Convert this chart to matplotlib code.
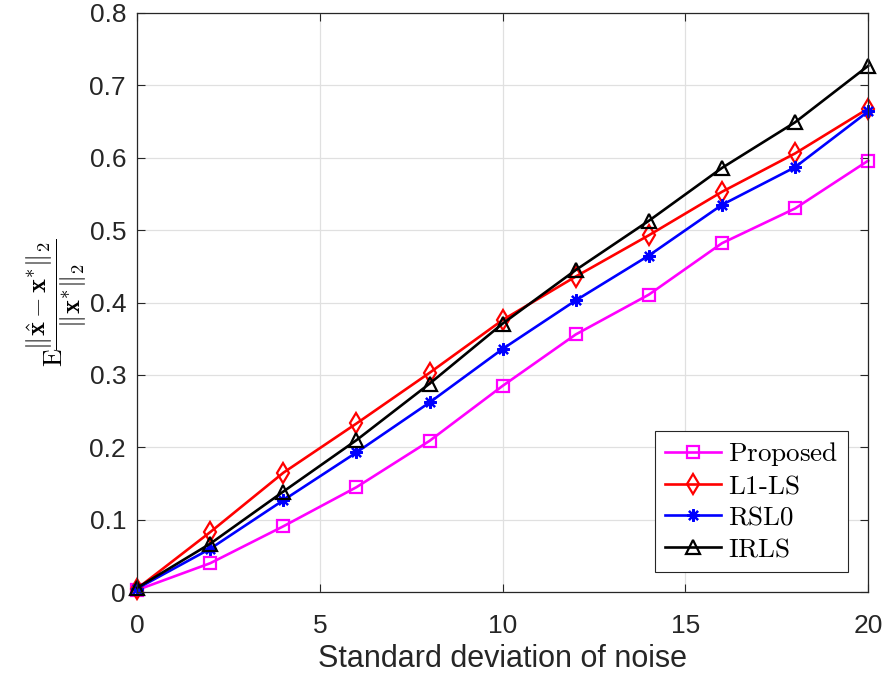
import matplotlib
matplotlib.use('Agg')
import matplotlib.pyplot as plt
import matplotlib.ticker as ticker

plt.rcParams['mathtext.fontset'] = 'cm'
plt.rcParams['font.family'] = ['Liberation Sans', 'DejaVu Sans']

# data
noise_std = [0, 2, 4, 6, 8, 10, 12, 14, 16, 18, 20]
proposed = [0.003, 0.040, 0.091, 0.145, 0.209, 0.285, 0.356, 0.411, 0.482, 0.530, 0.596]
l1_ls = [0.005, 0.083, 0.165, 0.233, 0.303, 0.376, 0.436, 0.493, 0.553, 0.606, 0.668]
rsl0 = [0.005, 0.060, 0.127, 0.193, 0.262, 0.336, 0.403, 0.465, 0.535, 0.587, 0.664]
irls = [0.006, 0.067, 0.139, 0.210, 0.288, 0.371, 0.445, 0.513, 0.586, 0.649, 0.727]

SERIES = [
    (proposed, {'marker': 's', 'color': (1.0, 0.0, 1.0), 'label': r'$\mathrm{Proposed}$', 'ms': 8}),
    (l1_ls, {'marker': 'd', 'color': (1.0, 0.0, 0.0), 'label': r'$\mathrm{L1\text{-}LS}$', 'ms': 10}),
    (rsl0, {'marker': (8, 2, 0), 'color': (0.0, 0.0, 1.0), 'label': r'$\mathrm{RSL0}$', 'ms': 9}),
    (irls, {'marker': '^', 'color': (0.0, 0.0, 0.0), 'label': r'$\mathrm{IRLS}$', 'ms': 10}),
]

DARK = (0.15, 0.15, 0.15)

fig = plt.figure(figsize=(8.85, 6.83), dpi=100)
ax = fig.add_axes([0.155, 0.133, 0.826, 0.848])

for values, opts in SERIES:
    ax.plot(noise_std, values, marker=opts['marker'], color=opts['color'],
            label=opts['label'], markersize=opts['ms'], markerfacecolor='none',
            markeredgewidth=1.6, linewidth=1.9, clip_on=False)

ax.set_xlim(0, 20)
ax.set_ylim(0, 0.8)
ax.xaxis.set_major_locator(ticker.MultipleLocator(5))
ax.yaxis.set_major_locator(ticker.MultipleLocator(0.1))
ax.yaxis.set_major_formatter(ticker.FuncFormatter(lambda v, p: '0' if abs(v) < 1e-9 else f'{v:.1f}'))

ax.grid(True, color=(0.88, 0.88, 0.88), linewidth=0.9)
ax.set_axisbelow(True)
ax.tick_params(direction='in', top=True, right=True, labelsize=19,
               length=6, width=0.8, colors=DARK)
ax.tick_params(axis='x', pad=16)
ax.tick_params(axis='y', pad=8)
for spine in ax.spines.values():
    spine.set_color(DARK)
    spine.set_linewidth(0.9)

ax.set_xlabel('Standard deviation of noise', fontsize=22, color=DARK, labelpad=4)
ax.set_ylabel(r'$\mathrm{E}\dfrac{\|\hat{\mathbf{x}}-\mathbf{x}^{*}\|_2}{\|\mathbf{x}^{*}\|_2}$',
              fontsize=19, labelpad=0)

leg = ax.legend(loc='lower right', fontsize=19.5, fancybox=False, framealpha=1,
                edgecolor=DARK, borderpad=0.35, handlelength=2.1,
                labelspacing=0.2, handletextpad=0.25, borderaxespad=0.75)
leg.get_frame().set_linewidth(0.8)

fig.savefig('out.png', dpi=100)
